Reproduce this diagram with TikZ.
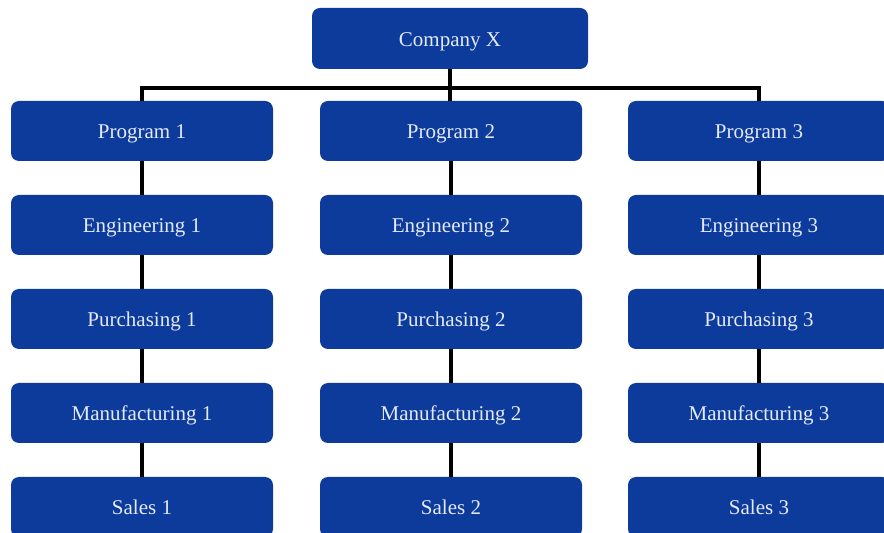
\documentclass[tikz,border=0pt]{standalone}
\usepackage{fontspec}
\setmainfont{Liberation Serif}
\definecolor{boxblue}{HTML}{0C3B9C}
\definecolor{boxtext}{HTML}{E4EAF7}
\begin{document}
\begin{tikzpicture}[x=1pt,y=1pt,
  orgbox/.style={fill=boxblue, draw=none, rounded corners=8pt, minimum width=262pt, minimum height=60pt,
    inner sep=0pt, text height=20pt, text depth=4pt, text=boxtext, font=\fontsize{21}{24}\selectfont},
  link/.style={line width=3.5pt, black}]
\useasboundingbox (0,0) rectangle (884,533);
\clip (0,0) rectangle (884,533);
\fill[white] (0,0) rectangle (884,533);
\node[orgbox, minimum width=276pt, minimum height=61pt] (cx) at (450,494.5) {Company X};
\foreach \i/\x in {1/142, 2/451, 3/759} {
  \node[orgbox] (p\i) at (\x,402) {Program \i};
  \node[orgbox] (e\i) at (\x,308) {Engineering \i};
  \node[orgbox] (u\i) at (\x,214) {Purchasing \i};
  \node[orgbox] (m\i) at (\x,120) {Manufacturing \i};
  \node[orgbox] (s\i) at (\x,26) {Sales \i};
  \draw[link] (p\i.south) -- (e\i.north);
  \draw[link] (e\i.south) -- (u\i.north);
  \draw[link] (u\i.south) -- (m\i.north);
  \draw[link] (m\i.south) -- (s\i.north);
}
\coordinate (bar) at (450,445);
\draw[link] (cx.south) -- (cx.south |- p2.north);
\draw[link] (p1.north) -- (p1.north |- bar) -| (p3.north);
\end{tikzpicture}
\end{document}
